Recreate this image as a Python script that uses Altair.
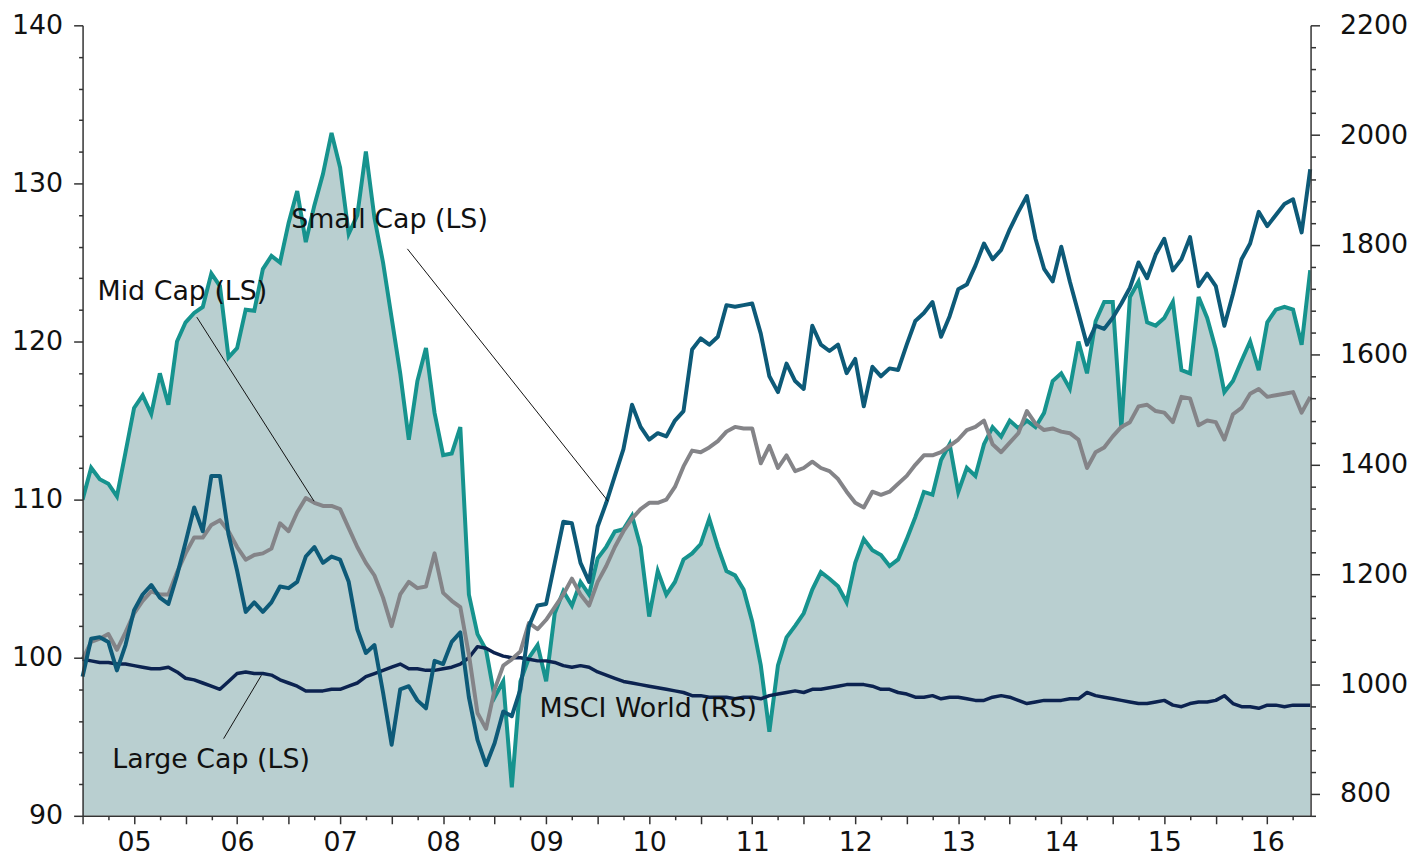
import altair as alt
import pandas as pd

# ---------------- data (monthly, starting July 2004) ----------------
start_month = "2004-07-01"

msci_world_rs = [
    1336, 1394, 1373, 1365, 1342, 1422, 1503, 1526, 1492, 1566,
    1509, 1624, 1659, 1676, 1687, 1748, 1725, 1595, 1612, 1682,
    1680, 1756, 1780, 1768, 1840, 1898, 1805, 1872, 1929, 2004,
    1941, 1820, 1854, 1970, 1849, 1768, 1667, 1566, 1445, 1552,
    1612, 1494, 1417, 1420, 1468, 1163, 1091, 1062, 976, 1005,
    812, 1005, 1048, 1071, 1005, 1129, 1169, 1143, 1186, 1163,
    1229, 1250, 1278, 1282, 1307, 1250, 1123, 1206, 1163, 1186,
    1227, 1238, 1255, 1301, 1250, 1206, 1198, 1172, 1114, 1034,
    913, 1034, 1085, 1106, 1129, 1172, 1204, 1192, 1178, 1149,
    1221, 1264, 1244, 1235, 1215, 1227, 1264, 1304, 1350, 1345,
    1408, 1437, 1350, 1394, 1379, 1437, 1468, 1451, 1480, 1466,
    1480, 1468, 1494, 1552, 1566, 1538, 1624, 1566, 1661, 1696,
    1696, 1466, 1705, 1733, 1659, 1653, 1667, 1696, 1572, 1566,
    1705, 1667, 1610, 1532, 1552, 1589, 1624, 1572, 1659, 1682,
    1687, 1682, 1618, 1754,
]

small_cap_ls = [
    98.8, 101.2, 101.3, 101.0, 99.2, 100.8, 103.0, 104.0, 104.6, 103.8,
    103.4, 105.2, 107.3, 109.5, 108.0, 111.5, 111.5, 107.8, 105.5, 102.9,
    103.5, 102.9, 103.5, 104.5, 104.4, 104.8, 106.4, 107.0, 106.0, 106.4,
    106.2, 104.8, 101.8, 100.3, 100.8, 97.8, 94.5, 98.0, 98.2, 97.3,
    96.8, 99.8, 99.6, 101.0, 101.6, 97.5, 94.8, 93.2, 94.6, 96.6,
    96.3, 98.0, 102.0, 103.3, 103.4, 106.0, 108.6, 108.5, 106.0, 104.8,
    108.3, 109.8, 111.5, 113.2, 116.0, 114.6, 113.8, 114.2, 114.0, 115.0,
    115.6, 119.5, 120.2, 119.8, 120.3, 122.3, 122.2, 122.3, 122.4, 120.5,
    117.8, 116.8, 118.6, 117.5, 117.0, 121.0, 119.8, 119.4, 119.8, 118.0,
    118.9, 115.9, 118.4, 117.8, 118.3, 118.2, 119.8, 121.3, 121.8, 122.5,
    120.3, 121.6, 123.3, 123.6, 124.8, 126.2, 125.2, 125.8, 127.1, 128.2,
    129.2, 126.5, 124.6, 123.8, 126.0, 123.8, 121.8, 119.8, 121.0, 120.8,
    121.5, 122.4, 123.4, 125.0, 124.0, 125.5, 126.5, 124.5, 125.2, 126.6,
    123.5, 124.3, 123.5, 121.0, 123.0, 125.2, 126.2, 128.2, 127.3, 128.0,
    128.7, 129.0, 126.9, 130.9,
]

mid_cap_ls = [
    99.9, 101.0, 101.2, 101.5, 100.5, 101.6, 102.8, 103.6, 104.2, 104.0,
    104.0, 105.4, 106.6, 107.6, 107.6, 108.4, 108.7, 108.0, 107.0, 106.2,
    106.5, 106.6, 106.9, 108.5, 108.0, 109.2, 110.1, 109.8, 109.6, 109.6,
    109.4, 108.2, 107.0, 106.0, 105.2, 103.8, 102.0, 104.0, 104.8, 104.4,
    104.5, 106.6, 104.1, 103.6, 103.2, 100.2, 96.5, 95.5, 98.0, 99.5,
    99.9, 100.4, 102.2, 101.8, 102.4, 103.2, 104.0, 105.0, 104.0, 103.3,
    104.8, 105.8, 107.0, 108.0, 108.8, 109.4, 109.8, 109.8, 110.0, 110.8,
    112.1, 113.1, 113.0, 113.3, 113.7, 114.3, 114.6, 114.5, 114.5, 112.3,
    113.4, 112.0, 112.8, 111.8, 112.0, 112.4, 112.0, 111.8, 111.3, 110.5,
    109.8, 109.5, 110.5, 110.3, 110.5, 111.0, 111.5, 112.2, 112.8, 112.8,
    113.0, 113.4, 113.8, 114.4, 114.6, 115.0, 113.5, 113.0, 113.6, 114.2,
    115.6, 114.8, 114.4, 114.5, 114.3, 114.2, 113.8, 112.0, 113.0, 113.3,
    114.0, 114.6, 114.9, 115.9, 116.0, 115.6, 115.5, 114.9, 116.5, 116.4,
    114.7, 115.0, 114.9, 113.8, 115.4, 115.8, 116.7, 117.0, 116.5, 116.6,
    116.7, 116.8, 115.5, 116.5,
]

large_cap_ls = [
    99.9, 99.8, 99.7, 99.7, 99.6, 99.6, 99.5, 99.4, 99.3, 99.3,
    99.4, 99.1, 98.7, 98.6, 98.4, 98.2, 98.0, 98.5, 99.0, 99.1,
    99.0, 99.0, 98.9, 98.6, 98.4, 98.2, 97.9, 97.9, 97.9, 98.0,
    98.0, 98.2, 98.4, 98.8, 99.0, 99.2, 99.4, 99.6, 99.3, 99.3,
    99.2, 99.2, 99.3, 99.4, 99.6, 100.0, 100.7, 100.6, 100.3, 100.1,
    100.0, 100.0, 99.9, 99.8, 99.8, 99.7, 99.5, 99.4, 99.5, 99.4,
    99.1, 98.9, 98.7, 98.5, 98.4, 98.3, 98.2, 98.1, 98.0, 97.9,
    97.8, 97.6, 97.6, 97.5, 97.5, 97.5, 97.4, 97.5, 97.5, 97.4,
    97.6, 97.7, 97.8, 97.9, 97.8, 98.0, 98.0, 98.1, 98.2, 98.3,
    98.3, 98.3, 98.2, 98.0, 98.0, 97.8, 97.7, 97.5, 97.5, 97.6,
    97.4, 97.5, 97.5, 97.4, 97.3, 97.3, 97.5, 97.6, 97.5, 97.3,
    97.1, 97.2, 97.3, 97.3, 97.3, 97.4, 97.4, 97.8, 97.6, 97.5,
    97.4, 97.3, 97.2, 97.1, 97.1, 97.2, 97.3, 97.0, 96.9, 97.1,
    97.2, 97.2, 97.3, 97.6, 97.1, 96.9, 96.9, 96.8, 97.0, 97.0,
    96.9, 97.0, 97.0, 97.0,
]

# annotations (data coordinates: decimal year, left-scale value)
label_text = ["Small Cap (LS)", "Mid Cap (LS)", "Large Cap (LS)", "MSCI World (RS)"]
label_x = [2006.525, 2004.645, 2004.789, 2008.936]
label_y = [127.67, 123.1, 93.5, 96.76]
leader_x = [2007.653, 2005.609, 2005.869]
leader_y = [125.86, 121.54, 94.88]
leader_x2 = [2009.601, 2006.747, 2006.236]
leader_y2 = [109.9, 109.9, 98.89]

x_domain = [2004.5, 2016.42]
left_domain = [90, 140]
right_domain = [760, 2200]

# ---------------- styling ----------------
FONT = "DejaVu Sans"
FS = 27
AXIS_COLOR = "#333333"
TEXT_COLOR = "#111111"
AREA_FILL = "#b9cfd0"
TEAL = "#16938e"
SMALL_COLOR = "#0d5a78"
MID_COLOR = "#848488"
LARGE_COLOR = "#0c2350"

dates = pd.date_range(start_month, periods=len(msci_world_rs), freq="MS")
t = [d.year + (d.month - 1) / 12 for d in dates]
df = pd.DataFrame({
    "t": t,
    "msci": msci_world_rs,
    "small": small_cap_ls,
    "mid": mid_cap_ls,
    "large": large_cap_ls,
})
ann = pd.DataFrame({"label": label_text, "x": label_x, "y": label_y})
leaders = pd.DataFrame({"x": leader_x, "y": leader_y, "x2": leader_x2, "y2": leader_y2})

common_axis = dict(
    grid=False,
    title=None,
    domainColor=AXIS_COLOR,
    domainWidth=1.5,
    tickColor=AXIS_COLOR,
    tickWidth=1.5,
    labelFont=FONT,
    labelFontSize=FS,
    labelColor=TEXT_COLOR,
    labelOverlap=False,
    labelFlush=False,
    zindex=1,
)

x_axis = alt.Axis(
    values=[2004.5 + 0.25 * k for k in range(48)],
    tickSize={"condition": {"test": "datum.value % 0.5 === 0", "value": 8}, "value": 4},
    labelExpr="datum.value % 1 === 0 ? ((datum.value % 100) < 10 ? '0' : '') + (datum.value % 100) : ''",
    labelPadding=6,
    orient="bottom",
    **common_axis,
)
left_axis = alt.Axis(
    values=list(range(90, 141, 2)),
    format="d",
    tickSize={"condition": {"test": "datum.value % 10 === 0", "value": 9}, "value": 4},
    labelExpr="datum.value % 10 === 0 ? datum.label : ''",
    labelPadding=11,
    orient="left",
    **common_axis,
)
right_axis = alt.Axis(
    values=list(range(760, 2201, 40)),
    format="d",
    tickSize={"condition": {"test": "datum.value % 200 === 0", "value": 9}, "value": 5},
    labelExpr="datum.value % 200 === 0 ? datum.label : ''",
    labelPadding=20,
    orient="right",
    **common_axis,
)

x_scale = alt.Scale(domain=x_domain, nice=False, zero=False)


def x_enc(field):
    # every layer carries the identical x axis so the shared axis merges cleanly
    return alt.X(f"{field}:Q", scale=x_scale, axis=x_axis)


def left_scale():
    return alt.Scale(domain=left_domain, nice=False, zero=False)


base = alt.Chart(df)

area = base.mark_area(
    color=AREA_FILL, opacity=1, clip=True,
    line={"color": TEAL, "strokeWidth": 4},
).encode(
    x=x_enc("t"),
    y=alt.Y("msci:Q", scale=alt.Scale(domain=right_domain, nice=False, zero=False),
            axis=right_axis, stack=None),
)


def series_line(field, color, width, axis=None):
    return base.mark_line(color=color, strokeWidth=width, strokeJoin="round").encode(
        x=x_enc("t"),
        y=alt.Y(f"{field}:Q", scale=left_scale(), axis=axis),
    )


large_line = series_line("large", LARGE_COLOR, 3.5, axis=left_axis)
mid_line = series_line("mid", MID_COLOR, 4)
small_line = series_line("small", SMALL_COLOR, 4)

rules = alt.Chart(leaders).mark_rule(color="#111111", strokeWidth=1).encode(
    x=x_enc("x"),
    y=alt.Y("y:Q", scale=left_scale(), axis=None),
    x2="x2:Q",
    y2="y2:Q",
)

texts = alt.Chart(ann).mark_text(
    align="left", baseline="middle", font=FONT, fontSize=FS, color=TEXT_COLOR
).encode(
    x=x_enc("x"),
    y=alt.Y("y:Q", scale=left_scale(), axis=None),
    text="label:N",
)

chart = alt.layer(area, large_line, mid_line, small_line, rules, texts).resolve_scale(
    y="independent"
).properties(
    width=1235,
    height=795,
    autosize=alt.AutoSizeParams(type="none"),
    padding={"left": 75, "top": 15, "right": 99, "bottom": 38},
    background="white",
).configure_view(strokeOpacity=0)

chart.save("out.html", embed_options={"renderer": "svg", "actions": False})
